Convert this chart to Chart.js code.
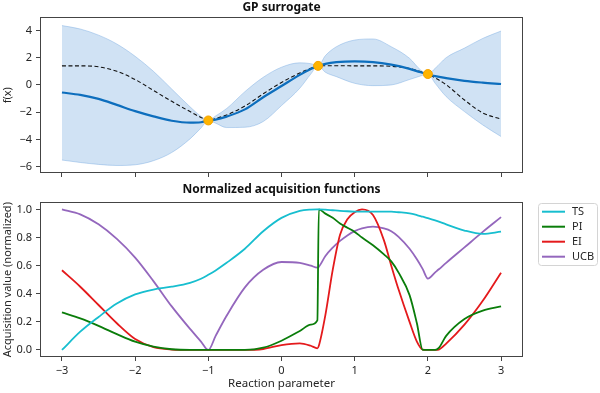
<!DOCTYPE html>
<html>
<head>
<meta charset="utf-8">
<title>GP surrogate and acquisition functions</title>
<script src="https://cdn.jsdelivr.net/npm/chart.js@4.4.0/dist/chart.umd.min.js"></script>
<style>
    body { margin: 0; background: #fff; }
    #wrap { position: relative; width: 600px; height: 393px; }
    canvas { position: absolute; left: 0; }
</style>
</head>
<body>
<div id="wrap">
    <canvas id="gpChart" width="600" height="185" style="top:0"></canvas>
    <canvas id="acqChart" width="600" height="218" style="top:175px"></canvas>
</div>
<script>
/**
 * GP surrogate (top) and normalized acquisition functions (bottom)
 */

// ---- data: GP surrogate ----
const xTop = [-3, -2.75, -2.5, -2.25, -2, -1.75, -1.5, -1.25, -1.1, -1, -0.9, -0.75, -0.5, -0.25, 0, 0.25, 0.4, 0.5, 0.6, 0.75, 1, 1.25, 1.5, 1.75, 1.9, 2, 2.1, 2.25, 2.5, 2.75, 3];
const trueF = [1.4, 1.4, 1.33, 1.0, 0.4, -0.4, -1.2, -1.95, -2.38, -2.6, -2.46, -2.2, -1.54, -0.65, 0.18, 0.88, 1.22, 1.4, 1.41, 1.41, 1.4, 1.4, 1.37, 1.2, 0.98, 0.8, 0.52, 0.02, -1.1, -2.05, -2.5];
const gpMean = [-0.55, -0.73, -1.02, -1.46, -1.92, -2.3, -2.62, -2.76, -2.73, -2.6, -2.54, -2.32, -1.79, -0.9, -0.08, 0.74, 1.17, 1.4, 1.55, 1.67, 1.73, 1.68, 1.49, 1.18, 0.93, 0.8, 0.65, 0.5, 0.3, 0.17, 0.07];
const gpUpper = [4.35, 4.1, 3.65, 3.0, 2.1, 1.0, -0.3, -1.6, -2.3, -2.6, -2.27, -1.73, -0.49, 0.56, 1.3, 1.62, 1.56, 1.4, 2.15, 2.8, 3.29, 3.37, 2.8, 1.95, 1.1, 0.8, 1.22, 2.0, 2.7, 3.41, 3.95];
const gpLower = [-5.5, -5.68, -5.82, -5.9, -5.85, -5.55, -4.95, -3.95, -3.15, -2.6, -2.8, -3.12, -3.1, -2.68, -1.51, -0.24, 0.8, 1.4, 0.93, 0.61, 0.12, -0.05, 0.0, 0.4, 0.66, 0.8, 0.12, -0.85, -1.95, -2.93, -3.78];
const obsX = [-1, 0.5, 2];
const obsY = [-2.6, 1.4, 0.8];

// ---- data: acquisition functions ----
const xAcq = [-3, -2.75, -2.5, -2.25, -2, -1.75, -1.5, -1.25, -1.1, -1, -0.9, -0.75, -0.5, -0.25, 0, 0.25, 0.4, 0.49, 0.51, 0.6, 0.7, 0.8, 0.9, 1, 1.1, 1.25, 1.4, 1.5, 1.6, 1.75, 1.85, 1.93, 2, 2.1, 2.15, 2.25, 2.5, 2.75, 3];
const tsVals = [0.0, 0.13, 0.235, 0.33, 0.395, 0.43, 0.45, 0.478, 0.507, 0.535, 0.566, 0.62, 0.72, 0.845, 0.94, 0.99, 0.999, 1.0, 1.0, 0.998, 0.994, 0.99, 0.987, 0.985, 0.984, 0.984, 0.984, 0.984, 0.98, 0.972, 0.96, 0.948, 0.938, 0.922, 0.913, 0.894, 0.85, 0.826, 0.842];
const piVals = [0.267, 0.225, 0.172, 0.113, 0.059, 0.024, 0.005, 0, 0, 0, 0, 0, 0, 0.016, 0.066, 0.135, 0.18, 0.21, 1.0, 0.97, 0.94, 0.9, 0.87, 0.84, 0.8, 0.745, 0.68, 0.63, 0.55, 0.39, 0.19, 0, 0, 0, 0.015, 0.1, 0.22, 0.28, 0.31];
const eiVals = [0.567, 0.45, 0.32, 0.19, 0.078, 0.02, 0.003, 0, 0, 0, 0, 0, 0, 0.007, 0.035, 0.047, 0.03, 0.012, 0.03, 0.25, 0.57, 0.82, 0.93, 0.98, 1.0, 0.96, 0.78, 0.6, 0.43, 0.2, 0.06, 0.003, 0, 0, 0.003, 0.045, 0.18, 0.35, 0.55];
const ucbVals = [1.0, 0.965, 0.894, 0.79, 0.657, 0.49, 0.31, 0.15, 0.06, 0, 0.1, 0.243, 0.445, 0.57, 0.626, 0.62, 0.6, 0.586, 0.592, 0.668, 0.728, 0.776, 0.815, 0.846, 0.866, 0.877, 0.865, 0.845, 0.805, 0.72, 0.645, 0.575, 0.508, 0.552, 0.574, 0.62, 0.73, 0.84, 0.945];

// ---- ticks ----
const xTicks = [-3, -2, -1, 0, 1, 2, 3];
const yTicksTop = [-6, -4, -2, 0, 2, 4];
const yTicksAcq = [0, 0.2, 0.4, 0.6, 0.8, 1.0];

const TEXT = '#262626';
const SPINE = '#444';

Chart.defaults.font.family = "'Noto Sans', 'DejaVu Sans', sans-serif";
Chart.defaults.font.size = 11;
Chart.defaults.color = TEXT;

const pts = (xs, ys) => xs.map((x, i) => ({ x: x, y: ys[i] }));
const minus = v => String(v).replace('-', '\u2212');

// matplotlib-like box around the plot area
const frame = {
    id: 'frame',
    afterDraw(chart) {
        const a = chart.chartArea;
        const ctx = chart.ctx;
        ctx.save();
        ctx.strokeStyle = SPINE;
        ctx.lineWidth = 1;
        ctx.strokeRect(Math.round(a.left) + 0.5, Math.round(a.top) + 0.5,
            Math.round(a.right - a.left) - 1, Math.round(a.bottom - a.top) - 1);
        ctx.restore();
    }
};

// boxed legend on the right of the lower panel
const boxLegend = {
    id: 'boxLegend',
    afterDraw(chart) {
        const ctx = chart.ctx;
        const x = 538, y = 28, w = 59, h = 62;
        ctx.save();
        ctx.fillStyle = 'rgba(255,255,255,0.85)';
        ctx.strokeStyle = '#d4d4d4';
        ctx.lineWidth = 1;
        ctx.beginPath();
        ctx.roundRect(x + 0.5, y + 0.5, w, h, 3);
        ctx.fill();
        ctx.stroke();
        ctx.font = "11px 'Noto Sans', 'DejaVu Sans', sans-serif";
        ctx.textBaseline = 'middle';
        chart.data.datasets.forEach((ds, i) => {
            const cy = y + 8.7 + i * 15;
            ctx.strokeStyle = ds.borderColor;
            ctx.lineWidth = 2;
            ctx.beginPath();
            ctx.moveTo(x + 4, cy);
            ctx.lineTo(x + 27, cy);
            ctx.stroke();
            ctx.fillStyle = TEXT;
            ctx.fillText(ds.label, x + 34, cy);
        });
        ctx.restore();
    }
};

function xAxis(showLabels, height, title) {
    return {
        type: 'linear',
        min: -3.3,
        max: 3.3,
        afterBuildTicks: s => { s.ticks = xTicks.map(v => ({ value: v })); },
        afterFit: s => { s.height = height; },
        border: { display: false },
        grid: { drawOnChartArea: false, drawTicks: true, tickLength: 4, tickColor: SPINE },
        ticks: { display: showLabels, padding: 3, maxRotation: 0, callback: v => minus(v) },
        title: title ? { display: true, text: title, font: { size: 11.5 }, padding: { top: 0, bottom: 2.5 } } : { display: false }
    };
}

function yAxis(min, max, tickVals, fmt, title) {
    return {
        type: 'linear',
        min: min,
        max: max,
        afterBuildTicks: s => { s.ticks = tickVals.map(v => ({ value: v })); },
        afterFit: s => { s.width = 40; },
        border: { display: false },
        grid: { drawOnChartArea: false, drawTicks: true, tickLength: 4, tickColor: SPINE },
        ticks: { padding: 4, callback: fmt },
        title: { display: true, text: title, font: { size: 11 }, padding: { top: 1, bottom: 0 } }
    };
}

function createGpChart() {
    const ctx = document.getElementById('gpChart');
    new Chart(ctx, {
        type: 'line',
        data: {
            datasets: [
                {
                    label: 'observations',
                    data: pts(obsX, obsY),
                    showLine: false,
                    pointRadius: 4.5,
                    pointBackgroundColor: '#ffb400',
                    pointBorderColor: '#f5a300',
                    pointBorderWidth: 1,
                    order: 0
                },
                {
                    label: 'mean',
                    data: pts(xTop, gpMean),
                    borderColor: '#0d6ebd',
                    borderWidth: 2.2,
                    pointRadius: 0,
                    cubicInterpolationMode: 'monotone',
                    order: 1
                },
                {
                    label: 'true',
                    data: pts(xTop, trueF),
                    borderColor: '#111',
                    borderWidth: 1.1,
                    borderDash: [4, 2.5],
                    pointRadius: 0,
                    cubicInterpolationMode: 'monotone',
                    order: 2
                },
                {
                    label: 'upper',
                    data: pts(xTop, gpUpper),
                    borderColor: 'rgba(120,170,225,0.55)',
                    borderWidth: 0.8,
                    backgroundColor: 'rgba(100,160,220,0.3)',
                    fill: '+1',
                    pointRadius: 0,
                    cubicInterpolationMode: 'monotone',
                    order: 3
                },
                {
                    label: 'lower',
                    data: pts(xTop, gpLower),
                    borderColor: 'rgba(120,170,225,0.55)',
                    borderWidth: 0.8,
                    fill: false,
                    pointRadius: 0,
                    cubicInterpolationMode: 'monotone',
                    order: 4
                }
            ]
        },
        options: {
            responsive: false,
            animation: false,
            devicePixelRatio: 1,
            events: [],
            layout: { padding: { left: 0, right: 77, top: 0, bottom: 0 } },
            plugins: {
                legend: { display: false },
                tooltip: { enabled: false },
                title: {
                    display: true,
                    text: 'GP surrogate',
                    fullSize: false,
                    color: '#111',
                    font: { size: 12, weight: 'bold' },
                    padding: { top: 0, bottom: 3 }
                }
            },
            scales: {
                x: xAxis(false, 12, null),
                y: yAxis(-6.45, 4.95, yTicksTop, v => minus(v), 'f(x)')
            }
        },
        plugins: [frame]
    });
}

function createAcqChart() {
    const ctx = document.getElementById('acqChart');
    const line = (label, ys, color) => ({
        label: label,
        data: pts(xAcq, ys),
        borderColor: color,
        borderWidth: 1.8,
        pointRadius: 0,
        cubicInterpolationMode: 'monotone'
    });
    new Chart(ctx, {
        type: 'line',
        data: {
            datasets: [
                line('TS', tsVals, '#17becf'),
                line('PI', piVals, '#0a7d0a'),
                line('EI', eiVals, '#e41a1c'),
                line('UCB', ucbVals, '#9467bd')
            ]
        },
        options: {
            responsive: false,
            animation: false,
            devicePixelRatio: 1,
            events: [],
            layout: { padding: { left: 0, right: 77, top: 7.5, bottom: 0 } },
            plugins: {
                legend: { display: false },
                tooltip: { enabled: false },
                title: {
                    display: true,
                    text: 'Normalized acquisition functions',
                    fullSize: false,
                    color: '#111',
                    font: { size: 12, weight: 'bold' },
                    padding: { top: 0, bottom: 5.5 }
                }
            },
            scales: {
                x: xAxis(true, 36, 'Reaction parameter'),
                y: yAxis(-0.05, 1.05, yTicksAcq, v => v.toFixed(1), 'Acquisition value (normalized)')
            }
        },
        plugins: [frame, boxLegend]
    });
}

createGpChart();
createAcqChart();
</script>
</body>
</html>
